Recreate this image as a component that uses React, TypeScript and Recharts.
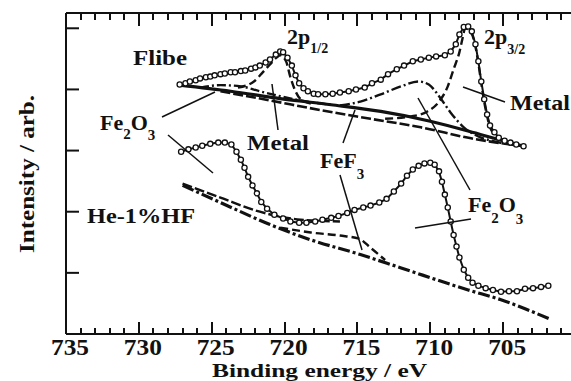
import React from 'react'
import { ComposedChart, Line, XAxis, YAxis } from 'recharts'

// Fe 2p XPS spectra, binding energy (eV) vs intensity (arb.)
const flibeSpectrum = [
  [727.2, 4.08], [726.8, 4.1], [726.5, 4.13], [726.1, 4.15], [725.8, 4.18], [725.4, 4.2],
  [725.1, 4.21], [724.8, 4.23], [724.4, 4.25], [724.1, 4.26], [723.7, 4.28], [723.4, 4.28],
  [723.0, 4.3], [722.7, 4.31], [722.3, 4.34], [722.0, 4.36], [721.7, 4.39], [721.3, 4.44],
  [721.0, 4.49], [720.6, 4.57], [720.3, 4.62], [720.1, 4.61], [719.8, 4.52], [719.5, 4.39],
  [719.25, 4.23], [719.0, 4.1], [718.7, 4.02], [718.4, 3.97], [718.0, 3.93], [717.7, 3.92],
  [717.2, 3.92], [716.7, 3.93], [716.2, 3.95], [715.6, 3.97], [715.1, 4.0], [714.5, 4.03],
  [714.0, 4.1], [713.4, 4.16], [712.9, 4.25], [712.3, 4.33], [711.8, 4.39], [711.2, 4.46],
  [710.65, 4.49], [710.1, 4.52], [709.6, 4.54], [709.0, 4.56], [708.6, 4.62], [708.25, 4.74],
  [708.0, 4.9], [707.7, 5.02], [707.4, 5.03], [707.15, 4.95], [706.9, 4.74], [706.7, 4.46],
  [706.5, 4.13], [706.3, 3.84], [706.1, 3.59], [705.9, 3.41], [705.6, 3.3], [705.3, 3.21],
  [704.9, 3.16], [704.5, 3.13], [704.1, 3.1], [703.6, 3.07],
]
const flibeBackground = [
  [727.2, 4.07], [723.7, 3.97], [720.3, 3.85], [716.8, 3.75], [713.4, 3.64], [710.0, 3.48],
  [706.5, 3.26], [703.6, 3.07],
]
const flibeFeF3 = [
  [724.4, 3.97], [721.0, 3.82], [717.5, 3.66], [714.1, 3.52], [710.65, 3.38], [707.2, 3.2],
  [703.6, 3.07],
]
const flibeOxide12 = [
  [725.8, 4.03], [724.4, 4.07], [723.0, 4.05], [721.7, 3.97], [720.3, 3.89], [718.9, 3.82],
  [716.8, 3.75],
]
const flibeMetal12 = [
  [723.2, 4.03], [722.1, 4.13], [721.5, 4.28], [721.0, 4.41], [720.55, 4.52], [720.3, 4.56],
  [719.9, 4.46], [719.6, 4.2], [719.25, 3.97], [718.9, 3.84], [718.2, 3.77],
]
const flibeOxide32 = [
  [716.2, 3.74], [714.8, 3.8], [713.4, 3.92], [712.0, 4.05], [710.8, 4.13], [710.1, 4.08],
  [709.4, 3.89], [708.6, 3.62], [707.7, 3.38], [706.7, 3.23], [705.6, 3.15], [703.6, 3.07],
]
const flibeMetal32 = [
  [713.1, 3.52], [711.3, 3.56], [710.2, 3.64], [709.4, 3.8], [708.8, 4.05], [708.4, 4.33],
  [708.0, 4.61], [707.8, 4.82], [707.6, 5.0], [707.2, 4.93], [706.9, 4.7], [706.7, 4.43],
  [706.5, 4.1], [706.3, 3.8], [706.1, 3.56], [705.9, 3.38], [705.5, 3.25], [704.8, 3.15],
  [703.6, 3.07],
]

const hfSpectrum = [
  [727.1, 2.98], [726.6, 3.02], [726.1, 3.05], [725.65, 3.08], [725.1, 3.11], [724.55, 3.13],
  [724.1, 3.13], [723.65, 3.1], [723.3, 2.98], [723.0, 2.85], [722.75, 2.72], [722.5, 2.57],
  [722.2, 2.43], [721.9, 2.3], [721.6, 2.16], [721.2, 2.05], [720.7, 1.95], [720.1, 1.89],
  [719.6, 1.84], [719.0, 1.82], [718.5, 1.82], [717.9, 1.84], [717.4, 1.87], [716.8, 1.9],
  [716.3, 1.93], [715.7, 1.98], [715.2, 2.03], [714.6, 2.07], [714.1, 2.1], [713.5, 2.15],
  [713.0, 2.21], [712.5, 2.33], [712.0, 2.46], [711.6, 2.59], [711.2, 2.69], [710.8, 2.75],
  [710.4, 2.79], [710.0, 2.8], [709.7, 2.77], [709.4, 2.66], [709.2, 2.49], [709.0, 2.28],
  [708.8, 2.07], [708.6, 1.84], [708.4, 1.62], [708.2, 1.43], [708.0, 1.25], [707.7, 1.05],
  [707.4, 0.92], [707.1, 0.84], [706.7, 0.79], [706.2, 0.75], [705.7, 0.72], [705.15, 0.69],
  [704.6, 0.7], [704.05, 0.7], [703.5, 0.74], [702.95, 0.75], [702.4, 0.77], [701.9, 0.79],
]
const hfBackground = [
  [727.0, 2.43], [724.4, 2.15], [721.0, 1.79], [718.2, 1.54], [714.8, 1.3], [712.0, 1.08],
  [707.4, 0.72], [705.15, 0.56], [701.85, 0.25],
]
const hfOxideTail = [
  [727.0, 2.46], [724.4, 2.23], [721.7, 2.0], [718.9, 1.87], [716.2, 1.84],
]
const hfFeF3 = [
  [720.3, 1.74], [718.2, 1.66], [716.2, 1.61], [714.9, 1.56], [714.1, 1.41], [713.1, 1.21],
]

const majorTicks = [735, 730, 725, 720, 715, 710, 705]
const minorTicks = Array.from({ length: 36 }, (_, k) => 700 + k)
const intensityTicks = [1, 2, 3, 4, 5]

const pts = (rows: number[][]) => rows.map(([e, i]) => ({ e, i }))

const INK = '#111'
const FONT = "'Liberation Serif', 'DejaVu Serif', serif"
const TOP = 13
const BOTTOM = 334
const LEFT = 66
const RIGHT = 576
const YMAX = 5.25
const E_MIN = 700
const E_MAX = 735

// pixel x of an energy on the (reversed) frame, for the inward frame ticks
const frameX = (v: number) => LEFT + ((E_MAX - v) * (RIGHT - LEFT)) / (E_MAX - E_MIN)

const BottomLabel = ({ x, payload }: any) => (
  <text x={x + 4} y={355} textAnchor="middle" fontFamily={FONT} fontWeight="bold" fontSize={23} fill={INK}
    textLength={38} lengthAdjust="spacingAndGlyphs">
    {payload.value}
  </text>
)

const LeftTick = ({ y }: any) => <line x1={LEFT} x2={LEFT + 13} y1={y} y2={y} stroke={INK} strokeWidth={2} />
const RightTick = ({ y }: any) => <line x1={RIGHT} x2={RIGHT - 13} y1={y} y2={y} stroke={INK} strokeWidth={2} />

const dot = { r: 2.6, fill: '#fff', stroke: INK, strokeWidth: 1.3 }

const txt = { fontFamily: FONT, fontWeight: 'bold' as const, fill: INK }

export default function App() {
  return (
    <div style={{ position: 'fixed', left: 0, top: 0, width: 571, height: 381, overflow: 'hidden', background: '#fff' }}>
      <ComposedChart width={600} height={381} margin={{ top: TOP - 10, right: 600 - RIGHT - 10, bottom: 381 - BOTTOM - 30, left: LEFT - 10 }}>
        <XAxis dataKey="e" type="number" domain={[E_MIN, E_MAX]} reversed ticks={majorTicks} interval={0}
          height={30} tickLine={false} tick={<BottomLabel />} axisLine={{ stroke: INK, strokeWidth: 2 }} />
        <XAxis xAxisId="t" orientation="top" dataKey="e" type="number" domain={[E_MIN, E_MAX]} reversed
          height={10} tickLine={false} tick={false} axisLine={{ stroke: INK, strokeWidth: 2 }} />
        <YAxis type="number" domain={[0, YMAX]} ticks={intensityTicks} interval={0} width={10} tickSize={0}
          tick={<LeftTick />} axisLine={{ stroke: INK, strokeWidth: 2 }} />
        <YAxis yAxisId="r" orientation="right" type="number" domain={[0, YMAX]} ticks={intensityTicks} interval={0}
          width={10} tickSize={0} tick={<RightTick />} axisLine={{ stroke: INK, strokeWidth: 2 }} />

        <Line data={pts(flibeBackground)} dataKey="i" type="monotone" stroke={INK} strokeWidth={3.2} dot={false} isAnimationActive={false} />
        <Line data={pts(flibeFeF3)} dataKey="i" type="monotone" stroke={INK} strokeWidth={2.6} strokeDasharray="10 3" dot={false} isAnimationActive={false} />
        <Line data={pts(flibeOxide12)} dataKey="i" type="monotone" stroke={INK} strokeWidth={2.4} strokeDasharray="9 3 2 3" dot={false} isAnimationActive={false} />
        <Line data={pts(flibeMetal12)} dataKey="i" type="monotone" stroke={INK} strokeWidth={2.4} strokeDasharray="8 4" dot={false} isAnimationActive={false} />
        <Line data={pts(flibeOxide32)} dataKey="i" type="monotone" stroke={INK} strokeWidth={2.4} strokeDasharray="10 3 2 3" dot={false} isAnimationActive={false} />
        <Line data={pts(flibeMetal32)} dataKey="i" type="monotone" stroke={INK} strokeWidth={2.4} strokeDasharray="8 4" dot={false} isAnimationActive={false} />
        <Line data={pts(flibeSpectrum)} dataKey="i" type="linear" stroke={INK} strokeWidth={2} dot={dot} isAnimationActive={false} />

        <Line data={pts(hfBackground)} dataKey="i" type="monotone" stroke={INK} strokeWidth={3.2} strokeDasharray="12 3 3 3" dot={false} isAnimationActive={false} />
        <Line data={pts(hfOxideTail)} dataKey="i" type="monotone" stroke={INK} strokeWidth={2.4} strokeDasharray="10 3" dot={false} isAnimationActive={false} />
        <Line data={pts(hfFeF3)} dataKey="i" type="monotone" stroke={INK} strokeWidth={2.4} strokeDasharray="8 4" dot={false} isAnimationActive={false} />
        <Line data={pts(hfSpectrum)} dataKey="i" type="linear" stroke={INK} strokeWidth={2} dot={dot} isAnimationActive={false} />
      </ComposedChart>

      <svg width={571} height={381} style={{ position: 'absolute', left: 0, top: 0, pointerEvents: 'none' }}>
        {minorTicks.map(v => {
          const len = v % 5 === 0 ? 12 : 6
          const x = Math.round(frameX(v)) - 1
          return (
            <g key={v}>
              <rect x={x} y={BOTTOM - len} width={2} height={len} fill={INK} />
              <rect x={x} y={TOP} width={2} height={len + 1} fill={INK} />
            </g>
          )
        })}
        <g stroke={INK} strokeWidth={1.5}>
          <line x1={162} y1={117} x2={215} y2={92} />
          <line x1={168} y1={135} x2={213} y2={173} />
          <line x1={272} y1={84} x2={278} y2={130} />
          <line x1={343} y1={143} x2={355} y2={110} />
          <line x1={340} y1={175} x2={362} y2={250} />
          <line x1={418} y1={98} x2={470} y2={190} />
          <line x1={415} y1={228} x2={471} y2={219} />
          <line x1={463} y1={87} x2={505} y2={102} />
        </g>
        <text {...txt} x={133} y={65} fontSize={21} textLength={54} lengthAdjust="spacingAndGlyphs">Flibe</text>
        <text {...txt} x={287} y={44} fontSize={22}>2p<tspan fontSize={14} dy={9}>1/2</tspan></text>
        <text {...txt} x={484} y={44} fontSize={22}>2p<tspan fontSize={14} dy={10}>3/2</tspan></text>
        <text {...txt} x={510} y={110} fontSize={22} textLength={60} lengthAdjust="spacingAndGlyphs">Metal</text>
        <text {...txt} x={247} y={150} fontSize={22} textLength={62} lengthAdjust="spacingAndGlyphs">Metal</text>
        <text {...txt} x={100} y={130} fontSize={22}>Fe<tspan fontSize={15} dy={9}>2</tspan><tspan fontSize={22} dy={-9}>O</tspan><tspan fontSize={15} dy={10}>3</tspan></text>
        <text {...txt} x={320} y={168} fontSize={22}>FeF<tspan fontSize={15} dy={11}>3</tspan></text>
        <text {...txt} x={468} y={212} fontSize={22}>Fe<tspan fontSize={15} dy={11}>2</tspan><tspan fontSize={22} dy={-11}>O</tspan><tspan fontSize={15} dy={12}>3</tspan></text>
        <text {...txt} x={87} y={223} fontSize={22} textLength={108} lengthAdjust="spacingAndGlyphs">He-1%HF</text>
        <text {...txt} x={212} y={377.4} fontSize={19.5} textLength={215} lengthAdjust="spacingAndGlyphs">Binding energy / eV</text>
        <text {...txt} x={0} y={0} fontSize={22} textLength={158} lengthAdjust="spacingAndGlyphs"
          transform="translate(34 253) rotate(-90)">Intensity / arb.</text>
      </svg>
    </div>
  )
}
